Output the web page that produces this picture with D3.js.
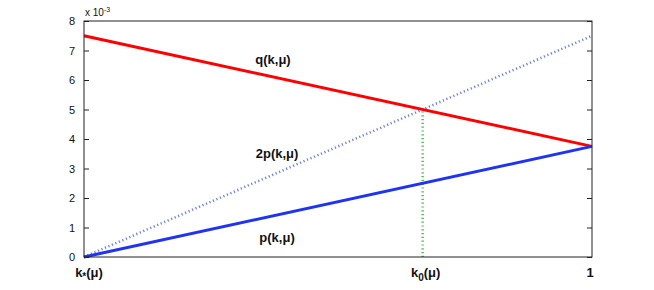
<!DOCTYPE html>
<html>
<head>
<meta charset="utf-8">
<script src="https://cdn.jsdelivr.net/npm/d3@7"></script>
<style>
  body { margin: 0; background: #fff; }
  text { font-family: "Liberation Sans", Arial, sans-serif; fill: #111; }
  .xlab { font-weight: bold; font-size: 13px; }
  .curve-label { font-weight: bold; font-size: 13px; }
</style>
</head>
<body>
<script>
var svgWidth = 654;
var svgHeight = 290;

var margin = { top: 21, right: 62, bottom: 33, left: 84 };
var width = svgWidth - margin.left - margin.right;
var height = svgHeight - margin.top - margin.bottom;

// x runs from k*(mu) (t=0) to 1 (t=1); values in units of 1e-3
var xTicks = [0, 2 / 3, 1];
var yTicks = [0, 1, 2, 3, 4, 5, 6, 7, 8];
var qVals = [7.5, 3.75];
var pVals = [0, 3.75];
var twoPVals = [0, 7.5];
var k0Line = [0, 5];

var svg = d3.select("body")
  .append("svg")
  .attr("width", svgWidth)
  .attr("height", svgHeight);

var chartGroup = svg.append("g")
  .attr("transform", `translate(${margin.left}, ${margin.top})`);

var xScale = d3.scaleLinear().domain([0, 1]).range([0, width]);
var yScale = d3.scaleLinear().domain([0, 8]).range([height, 0]);

var ends = [0, 1];
var drawLine = d3.line()
  .x(d => xScale(d[0]))
  .y(d => yScale(d[1]));

// dotted 2p line
chartGroup.append("path")
  .attr("d", drawLine(ends.map((x, i) => [x, twoPVals[i]])))
  .attr("fill", "none")
  .attr("stroke", "#6a7cff")
  .attr("stroke-width", 2.5)
  .attr("stroke-dasharray", "1.2,2.6");

// green dotted vertical at k0
chartGroup.append("path")
  .attr("d", drawLine(k0Line.map(v => [xTicks[1], v])))
  .attr("fill", "none")
  .attr("stroke", "#55bb55")
  .attr("stroke-width", 2.5)
  .attr("stroke-dasharray", "1.2,2.6");

// q line
chartGroup.append("path")
  .attr("d", drawLine(ends.map((x, i) => [x, qVals[i]])))
  .attr("fill", "none")
  .attr("stroke", "#ff0000")
  .attr("stroke-width", 3);

// p line
chartGroup.append("path")
  .attr("d", drawLine(ends.map((x, i) => [x, pVals[i]])))
  .attr("fill", "none")
  .attr("stroke", "#1f33f5")
  .attr("stroke-width", 3);

// axes box
chartGroup.append("rect")
  .attr("width", width)
  .attr("height", height)
  .attr("fill", "none")
  .attr("stroke", "#222")
  .attr("stroke-width", 1);

// y ticks on both sides, pointing inward
var leftAxis = d3.axisLeft(yScale).tickValues(yTicks).tickSize(-5).tickPadding(9);
var gLeft = chartGroup.append("g").call(leftAxis);
gLeft.select(".domain").remove();
gLeft.selectAll("text").style("font-size", "11px").style("font-family", "Liberation Sans, Arial, sans-serif").attr("fill", "#111");
gLeft.selectAll("line").attr("stroke", "#222");

var rightAxis = d3.axisRight(yScale).tickValues(yTicks).tickSize(-5).tickFormat("");
var gRight = chartGroup.append("g")
  .attr("transform", `translate(${width}, 0)`)
  .call(rightAxis);
gRight.select(".domain").remove();
gRight.selectAll("line").attr("stroke", "#222");

// exponent label
var expo = chartGroup.append("text")
  .attr("x", 1)
  .attr("y", -5)
  .style("font-size", "10px");
expo.append("tspan").text("x 10");
expo.append("tspan").attr("dy", -4).style("font-size", "7px").text("-3");

// x tick labels
var xLabel = chartGroup.append("g").attr("class", "xlab");
var kStar = xLabel.append("text")
  .attr("x", xScale(xTicks[0]) + 5)
  .attr("y", height + 20)
  .attr("text-anchor", "middle");
kStar.append("tspan").text("k");
kStar.append("tspan").attr("dy", 3).style("font-size", "10px").text("*");
kStar.append("tspan").attr("dy", -3).text("(\u03bc)");

var kZero = xLabel.append("text")
  .attr("x", xScale(xTicks[1]) + 3)
  .attr("y", height + 20)
  .attr("text-anchor", "middle");
kZero.append("tspan").text("k");
kZero.append("tspan").attr("dy", 4).style("font-size", "10px").text("0");
kZero.append("tspan").attr("dy", -4).text("(\u03bc)");

xLabel.append("text")
  .attr("x", xScale(xTicks[2]) - 2)
  .attr("y", height + 20)
  .attr("text-anchor", "middle")
  .text("1");

// curve labels
var curveLabels = [
  { text: "q(k,\u03bc)", x: 0.372, y: 6.54 },
  { text: "2p(k,\u03bc)", x: 0.38, y: 3.36 },
  { text: "p(k,\u03bc)", x: 0.38, y: 0.51 }
];
chartGroup.selectAll(".curve-label")
  .data(curveLabels)
  .enter()
  .append("text")
  .attr("class", "curve-label")
  .attr("x", d => xScale(d.x))
  .attr("y", d => yScale(d.y))
  .attr("text-anchor", "middle")
  .text(d => d.text);
</script>
</body>
</html>
